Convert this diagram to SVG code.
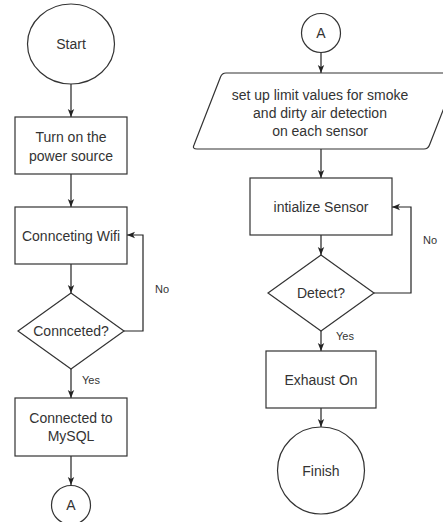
<svg xmlns="http://www.w3.org/2000/svg" width="443" height="522" viewBox="0 0 443 522">
<style>
.s{fill:#fff;stroke:#333;stroke-width:1.2}
.c{fill:none;stroke:#222;stroke-width:1.2}
.t{font-family:"Liberation Sans",Arial,sans-serif;font-size:14px;fill:#333;text-anchor:middle;dominant-baseline:central}
.l{font-family:"Liberation Sans",Arial,sans-serif;font-size:11px;fill:#333;dominant-baseline:central}
</style>
<defs>
<marker id="ah" viewBox="0 0 10 10" refX="10" refY="5" markerWidth="8" markerHeight="8" markerUnits="userSpaceOnUse" orient="auto">
<path d="M0,1 L10,5 L0,9 L2.5,5 Z" fill="#222"/>
</marker>
</defs>
<rect width="443" height="522" fill="#fff"/>
<g id="connectors">
<path class="c" d="M71,83 V117" marker-end="url(#ah)"/>
<path class="c" d="M71,174 V207" marker-end="url(#ah)"/>
<path class="c" d="M71,264 V293" marker-end="url(#ah)"/>
<path class="c" d="M71,369 V398" marker-end="url(#ah)"/>
<path class="c" d="M124,331 H143 V235 H127" marker-end="url(#ah)"/>
<path class="c" d="M71,456 V485" marker-end="url(#ah)"/>
<path class="c" d="M321,53 V73" marker-end="url(#ah)"/>
<path class="c" d="M321,149 V178" marker-end="url(#ah)"/>
<path class="c" d="M321,235 V255" marker-end="url(#ah)"/>
<path class="c" d="M321,331 V351" marker-end="url(#ah)"/>
<path class="c" d="M374,293 H411 V207 H392" marker-end="url(#ah)"/>
<path class="c" d="M321,408 V427" marker-end="url(#ah)"/>
<text class="l" x="155" y="289">No</text>
<text class="l" x="82" y="380">Yes</text>
<text class="l" x="423" y="240">No</text>
<text class="l" x="336" y="336">Yes</text>
</g>
<g id="start">
<ellipse class="s" cx="71" cy="44" rx="43.5" ry="40"/>
<text class="t" x="71" y="44">Start</text>
</g>
<g id="power">
<rect class="s" x="15" y="117" width="112" height="57"/>
<text class="t" x="71" y="137">Turn on the</text>
<text class="t" x="71" y="156">power source</text>
</g>
<g id="wifi">
<rect class="s" x="15" y="207" width="112" height="57"/>
<text class="t" x="71" y="236">Connceting Wifi</text>
</g>
<g id="connected">
<path class="s" d="M71,293 L124,331 L71,369 L18,331 Z"/>
<text class="t" x="71" y="331">Connceted?</text>
</g>
<g id="mysql">
<rect class="s" x="15" y="398" width="112" height="58"/>
<text class="t" x="71" y="418">Connected to</text>
<text class="t" x="71" y="436">MySQL</text>
</g>
<g id="a1">
<circle class="s" cx="71" cy="505" r="19.5"/>
<text class="t" x="71" y="505">A</text>
</g>
<g id="a2">
<circle class="s" cx="321" cy="33" r="19.5"/>
<text class="t" x="321" y="33">A</text>
</g>
<g id="limits">
<path class="s" d="M226,73 H453 Q458,73 456,77 L429.5,145 Q428,149 424,149 H197 Q192,149 194,145 L220.5,77 Q222,73 226,73 Z"/>
<text class="t" x="320" y="95">set up limit values for smoke</text>
<text class="t" x="320" y="113">and dirty air detection</text>
<text class="t" x="320" y="131">on each sensor</text>
</g>
<g id="init">
<rect class="s" x="250" y="178" width="142" height="57"/>
<text class="t" x="321" y="207">intialize Sensor</text>
</g>
<g id="detect">
<path class="s" d="M321,255 L374,293 L321,331 L268,293 Z"/>
<text class="t" x="321" y="293">Detect?</text>
</g>
<g id="exhaust">
<rect class="s" x="266" y="351" width="110" height="57"/>
<text class="t" x="321" y="380">Exhaust On</text>
</g>
<g id="finish">
<circle class="s" cx="321" cy="470.5" r="43.5"/>
<text class="t" x="321" y="470.5">Finish</text>
</g>
</svg>
